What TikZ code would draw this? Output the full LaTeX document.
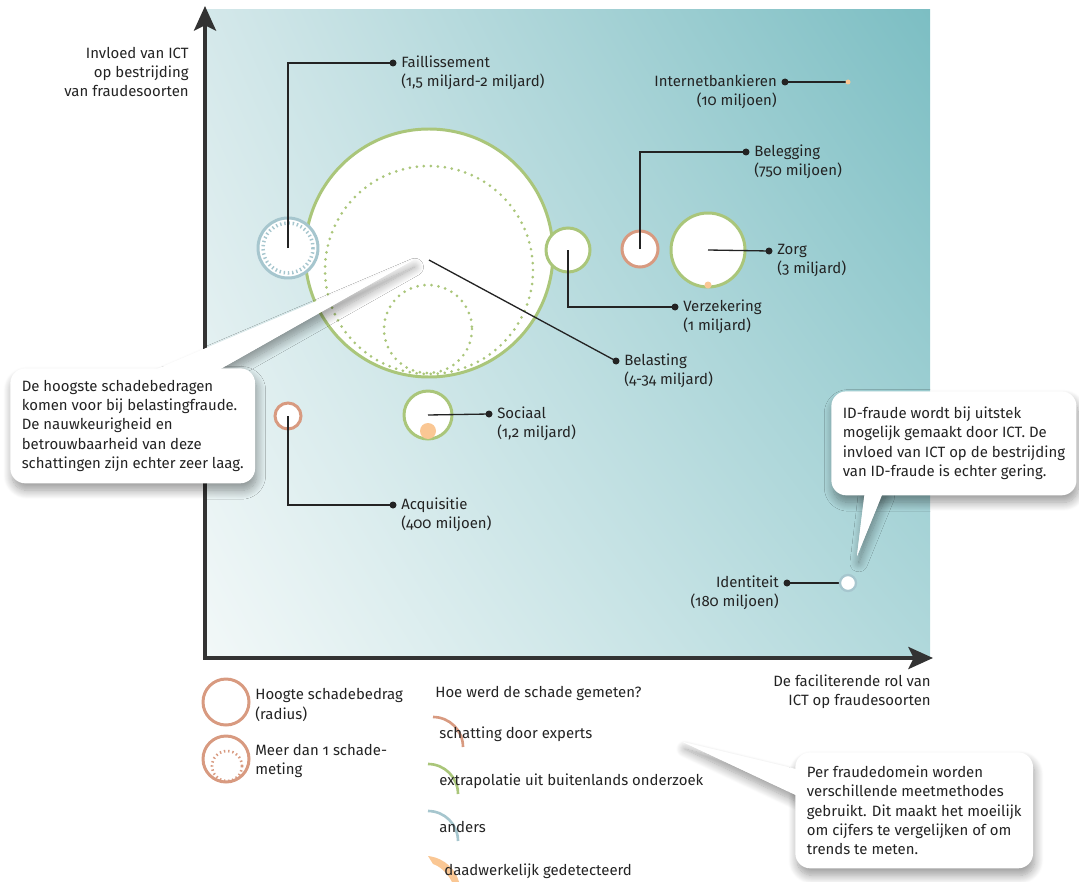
\documentclass[tikz,border=0pt]{standalone}
\usepackage{fontspec}
\setmainfont{Fira Sans}[Numbers=OldStyle]
\usetikzlibrary{arrows.meta,shadings,shadows.blur}
\definecolor{fgreen}{RGB}{170,198,122}
\definecolor{forange}{RGB}{216,154,128}
\definecolor{fblue}{RGB}{166,198,206}
\definecolor{fpeach}{RGB}{250,199,148}
\definecolor{ink}{RGB}{35,35,35}
\definecolor{axisgray}{RGB}{51,51,51}
\definecolor{bgTL}{RGB}{212,232,234}
\definecolor{bgTR}{RGB}{124,190,195}
\definecolor{bgBL}{RGB}{242,248,248}
\definecolor{bgBR}{RGB}{176,216,219}
\tikzset{
  every node/.style={font=\fontsize{8.5}{11}\selectfont, text=ink},
  lbl/.style={inner sep=0pt, align=left},
  leader/.style={draw=ink, line width=0.75pt},
  ring/.style={draw=#1, line width=1.7pt, fill=white},
  dots/.style={draw=#1, line width=1.7pt, line cap=round, dash pattern=on 0pt off 4pt},
  ticks/.style={draw=#1, line width=2pt, dash pattern=on 0.8pt off 1.6pt},
  arcmark/.style={draw=#1, line width=1.5pt},
  axisline/.style={draw=axisgray, line width=2.3pt, >={Stealth[length=14pt,width=12.5pt,inset=3pt]}, <->},
  softshadow/.style={blur shadow={shadow xshift=1pt, shadow yshift=-4pt, shadow blur radius=5pt, shadow blur steps=12, shadow opacity=40}},
  bubble/.style={fill=white, rounded corners=8.5pt, inner xsep=6.5pt, align=left, anchor=north west, softshadow},
}
\begin{document}
\begin{tikzpicture}[x=0.02cm, y=-0.02cm]
\useasboundingbox (0,0) rectangle (1079,882);
\shade[upper left=bgTL, upper right=bgTR, lower left=bgBL, lower right=bgBR] (205,10) rectangle (930,658);

% assen
\coordinate (O) at (205,658); \coordinate (yTip) at (205,6); \coordinate (xTip) at (933,658);
\draw[axisline] (yTip) -- (O) -- (xTip);
\node[lbl, align=right, anchor=east] (yLbl) at (189,72) {Invloed van ICT\\op bestrijding\\van fraudesoorten};
\node[lbl, align=right, anchor=east] (xLbl) at (931,692) {De faciliterende rol van\\ICT op fraudesoorten};

% cirkels
\coordinate (cBel) at (429,253); \coordinate (cFail) at (288,248); \coordinate (cVer) at (568,250);
\coordinate (cBeg) at (640,249); \coordinate (cZorg) at (708,250); \coordinate (cInt) at (848,82);
\coordinate (cId) at (848,583); \coordinate (cAcq) at (288,416); \coordinate (cSoc) at (428,415);

\draw[ring=fgreen] (cBel) circle (124);
\draw[dots=fgreen] (429,270) circle (104) (428,329) circle (44);
\draw[ring=fblue] (cFail) circle (30); \draw[ticks=fblue] (cFail) circle (25);
\draw[ring=fgreen] (cVer) circle (22);
\draw[ring=forange] (cBeg) circle (18);
\draw[ring=fgreen] (cZorg) circle (37); \fill[fpeach] (708,285) circle (3.5);
\draw[ring=forange] (cAcq) circle (13);
\draw[ring=fgreen] (cSoc) circle (24); \fill[fpeach] (428,431) circle (8);

% verbindingslijnen
\coordinate (dFail) at (393,63); \coordinate (dBel) at (616,361); \coordinate (dVer) at (675,307);
\coordinate (dBeg) at (746,152); \coordinate (dZorg) at (769,251); \coordinate (dInt) at (785,82);
\coordinate (dId) at (787,583); \coordinate (dAcq) at (393,505); \coordinate (dSoc) at (489,414);

\draw[leader] (cFail) |- (dFail);
\draw[leader] ([yshift=-4pt]cBel) -- (dBel);
\draw[leader] (cVer) |- (dVer);
\draw[leader] (cBeg) |- (dBeg);
\draw[leader] (cZorg) -- (dZorg);
\draw[leader] (dInt) -- (cInt);
\draw[leader] (dId) -- (cId);
\draw[leader] (cAcq) |- (dAcq);
\draw[leader] (cSoc) -- (dSoc);
\fill[fpeach] (cInt) circle (2.5);
\draw[fblue, line width=1.3pt, fill=white] (cId) circle (8);
\foreach \d in {dFail,dBel,dVer,dBeg,dZorg,dInt,dId,dAcq,dSoc} \fill[ink] (\d) circle (3.5);

\node[lbl, anchor=west] (tFail) at ([xshift=4.5pt,yshift=-5.5pt]dFail) {Faillissement\\(1,5 miljard-2 miljard)};
\node[lbl, anchor=west] (tBel) at ([xshift=4.5pt,yshift=-5.5pt]dBel) {Belasting\\(4-34 miljard)};
\node[lbl, anchor=west] (tVer) at ([xshift=4.5pt,yshift=-5.5pt]dVer) {Verzekering\\(1 miljard)};
\node[lbl, anchor=west] (tBeg) at ([xshift=4.5pt,yshift=-5.5pt]dBeg) {Belegging\\(750 miljoen)};
\node[lbl, anchor=west] (tZorg) at ([xshift=4.5pt,yshift=-5.5pt]dZorg) {Zorg\\(3 miljard)};
\node[lbl, anchor=west] (tAcq) at ([xshift=4.5pt,yshift=-5.5pt]dAcq) {Acquisitie\\(400 miljoen)};
\node[lbl, anchor=west] (tSoc) at ([xshift=4.5pt,yshift=-5.5pt]dSoc) {Sociaal\\(1,2 miljard)};
\node[lbl, align=right, anchor=east] (tInt) at ([xshift=-4.5pt,yshift=-5.5pt]dInt) {Internetbankieren\\(10 miljoen)};
\node[lbl, align=right, anchor=east] (tId) at ([xshift=-4.5pt,yshift=-5.5pt]dId) {Identiteit\\(180 miljoen)};

% legenda
\draw[ring=forange] (226,702) circle (23);
\draw[ring=forange] (226,759) circle (23); \draw[ticks=forange, line width=1.5pt] (227,766) circle (15);
\node[lbl, anchor=west] (legA) at (255,705) {Hoogte schadebedrag\\(radius)};
\node[lbl, anchor=west] (legB) at (255,761) {Meer dan 1 schade-\\meting};
\node[lbl, anchor=west] (legHead) at (435,693) {Hoe werd de schade gemeten?};
\draw[arcmark=forange] (433,717) arc[start angle=-90, end angle=0, radius=30];
\draw[arcmark=fgreen] (428,764) arc[start angle=-90, end angle=0, radius=30];
\draw[arcmark=fblue] (428,811) arc[start angle=-90, end angle=0, radius=30];
\fill[fpeach] (428,856) .. controls (445,858) and (456,870) .. (459,882) -- (452,882) .. controls (447,872) and (439,866) .. (433,864) -- cycle;
\node[lbl, anchor=west] (legExp) at (439,734) {schatting door experts};
\node[lbl, anchor=west] (legExt) at (439,781) {extrapolatie uit buitenlands onderzoek};
\node[lbl, anchor=west] (legAnd) at (439,827) {anders};
\node[lbl, anchor=west] (legDet) at (444,871) {daadwerkelijk gedetecteerd};

% toelichtingen
\coordinate (wBa) at (150,372); \coordinate (wBtip) at (413,260); \coordinate (wBb) at (215,372);
\coordinate (wIa) at (865,490); \coordinate (wItip) at (857,556); \coordinate (wIb) at (884,490);
\coordinate (wMa) at (800,770); \coordinate (wMtip) at (683,742); \coordinate (wMb) at (800,797);
\fill[white, softshadow] (wBa) -- (wBtip) -- (wBb) -- cycle;
\fill[white, softshadow] (wIa) -- (wItip) -- (wIb) -- cycle;
\fill[white, softshadow] (wMa) -- (wMtip) -- (wMb) -- cycle;
\node[bubble, minimum height=2.3cm] (nBel) at (10,368) {De hoogste schadebedragen\\komen voor bij belastingfraude.\\De nauwkeurigheid en\\betrouwbaarheid van deze\\schattingen zijn echter zeer laag.};
\node[bubble, minimum height=2.08cm] (nId) at (831,391) {ID-fraude wordt bij uitstek\\mogelijk gemaakt door ICT. De\\invloed van ICT op de bestrijding\\van ID-fraude is echter gering.};
\node[bubble, minimum height=2.32cm] (nMeet) at (795,752) {Per fraudedomein worden\\verschillende meetmethodes\\gebruikt. Dit maakt het moeilijk\\om cijfers te vergelijken of om\\trends te meten.};
\fill[white] (wBa) -- (wBtip) -- (wBb) -- cycle (wIa) -- (wItip) -- (wIb) -- cycle (wMa) -- (wMtip) -- (wMb) -- cycle;
\end{tikzpicture}
\end{document}
